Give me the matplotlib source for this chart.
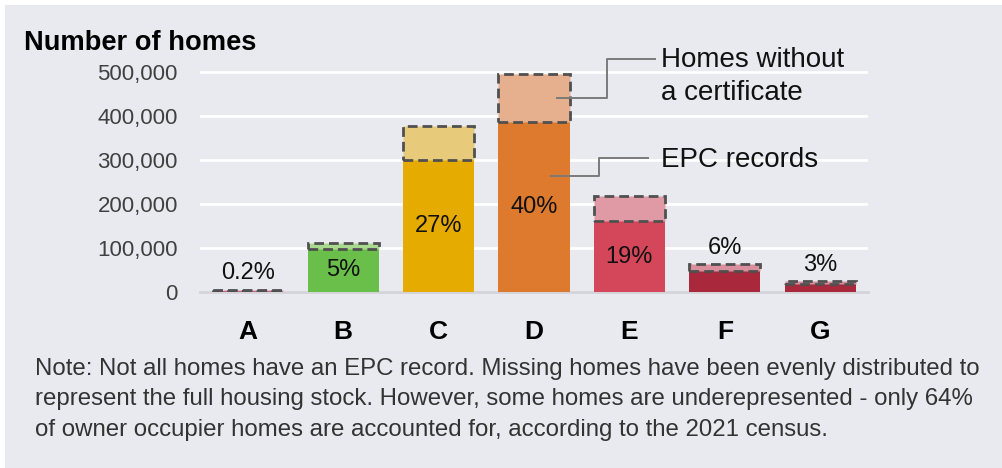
import matplotlib
matplotlib.use('Agg')

import matplotlib.pyplot as plt
from matplotlib.patches import Rectangle
import numpy as np

plt.rcParams['font.family'] = ['Liberation Sans', 'DejaVu Sans']

bands = ['A', 'B', 'C', 'D', 'E', 'F', 'G']
epc_homes = np.array([2000, 99000, 301000, 386000, 162000, 49000, 19000])
missing_homes = np.array([4000, 12000, 77000, 110000, 56000, 15000, 6000])
shares = ['0.2%', '5%', '27%', '40%', '19%', '6%', '3%']
label_inside = [False, True, True, True, True, False, False]

solid_colors = ['#c03a5a', '#6abf4b', '#e6ab00', '#dd7a2e', '#d4475a', '#a9283b', '#a9283b']
light_colors = ['#d890a8', '#a8d98e', '#e8ca7b', '#e6b08e', '#e09aa5', '#d9909c', '#d68f9b']

panel = '#e9eaf0'

fig = plt.figure(figsize=(10.02, 4.68), dpi=100, facecolor='white')
fig.patches.append(Rectangle((5 / 1002, 0), 1, 463 / 468, transform=fig.transFigure,
                             facecolor=panel, edgecolor='none', zorder=-10))

W, H = 1002, 468
ymax = 505000
ax_h = 220.3 * ymax / 500000
ax = fig.add_axes([200 / W, (H - 292.3) / H, 668 / W, ax_h / H])
ax.set_facecolor('none')

x = np.arange(len(bands))
width = 0.745

ax.bar(x, epc_homes, width, color=solid_colors, zorder=3)
ax.bar(x, missing_homes, width, bottom=epc_homes, color=light_colors,
       edgecolor='#505050', linestyle=(0, (3.5, 1.8)), linewidth=2, zorder=4)

for i, s in enumerate(shares):
    if label_inside[i]:
        ax.text(x[i], epc_homes[i] / 2, s, ha='center', va='center',
                fontsize=17, color='#111111', zorder=5)
    else:
        ax.annotate(s, (x[i], epc_homes[i] + missing_homes[i]), xytext=(0, 4),
                    textcoords='offset points', ha='center', va='bottom',
                    fontsize=17, color='#111111', zorder=5)

ax.set_xlim(-0.5, len(bands) - 0.5)
ax.set_ylim(0, ymax)
ax.set_yticks(np.arange(0, 500001, 100000))
ax.set_yticklabels([f'{v:,}' for v in range(0, 500001, 100000)])
ax.yaxis.grid(True, color='white', linewidth=2, zorder=0)
ax.set_axisbelow(True)
ax.tick_params(axis='y', length=0, pad=16, labelsize=16, labelcolor='#404040')
ax.set_xticks(x)
ax.set_xticklabels(bands, fontsize=19, fontweight='bold')
ax.tick_params(axis='x', length=0, pad=20)
for side in ['top', 'right', 'left']:
    ax.spines[side].set_visible(False)
ax.spines['bottom'].set_color('#d4d4d8')
ax.spines['bottom'].set_linewidth(2)
ax.spines['bottom'].set_zorder(2)

# leader lines for the two parts of the D bar
d = 3
top_mid = epc_homes[d] + missing_homes[d] / 2
ax.plot([d + 0.24, d + 0.76, d + 0.76, d + 1.27], [top_mid, top_mid, 530000, 530000],
        color='#7a7a7a', linewidth=1.4, clip_on=False, zorder=6)
ax.text(d + 1.33, 490000, 'Homes without\na certificate', ha='left', va='center',
        fontsize=20, color='#111111', linespacing=1.38)
ax.plot([d + 0.18, d + 0.68, d + 0.68, d + 1.19], [263000, 263000, 304000, 304000],
        color='#7a7a7a', linewidth=1.4, clip_on=False, zorder=6)
ax.text(d + 1.33, 300000, 'EPC records', ha='left', va='center',
        fontsize=20, color='#111111')

fig.text(24 / W, 1 - 43 / H, 'Number of homes', ha='left', va='center',
         fontsize=19.6, fontweight='bold', color='black')

note = ('Note: Not all homes have an EPC record. Missing homes have been evenly distributed to\n'
        'represent the full housing stock. However, some homes are underepresented - only 64%\n'
        'of owner occupier homes are accounted for, according to the 2021 census.')
fig.text(35 / W, 1 - 358 / H, note, ha='left', va='top', fontsize=17.3,
         color='#333333', linespacing=1.5)

out_png = 'out.png'
fig.savefig(out_png, dpi=100, facecolor=fig.get_facecolor())
